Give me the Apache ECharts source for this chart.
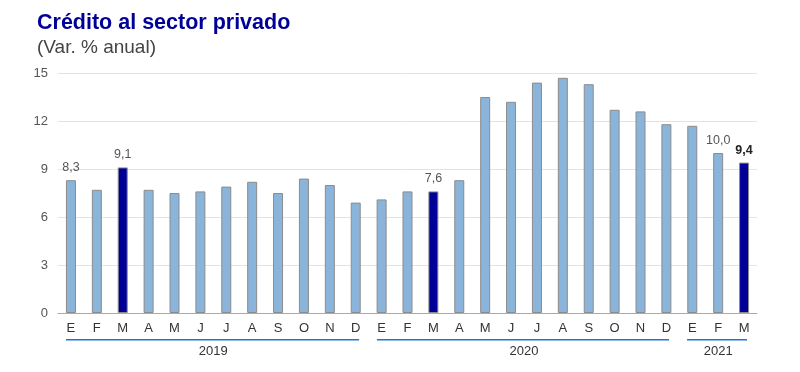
<!DOCTYPE html>
<html><head><meta charset="utf-8">
<script src="https://cdn.jsdelivr.net/npm/echarts@6/dist/echarts.min.js"></script>
<style>html,body{margin:0;padding:0;background:#fff}#c{width:800px;height:372px}</style>
</head><body><div id="c"></div>
<script>
const months = ['E','F','M','A','M','J','J','A','S','O','N','D','E','F','M','A','M','J','J','A','S','O','N','D','E','F','M'];
const values = [8.3,7.7,9.1,7.7,7.5,7.6,7.9,8.2,7.5,8.4,8.0,6.9,7.1,7.6,7.6,8.3,13.5,13.2,14.4,14.7,14.3,12.7,12.6,11.8,11.7,10.0,9.4];
const highlighted = [2,14,26];
const labelled = [0,2,14,25];
const boldLabelled = [26];
const years = [{name:'2019',from:0,to:11},{name:'2020',from:12,to:23},{name:'2021',from:24,to:26}];
const yTicks = {min:0,max:15,interval:3};

const FONT = 'Liberation Sans, Arial, sans-serif';
const chart = echarts.init(document.getElementById('c'));
const data = values.map((v,i)=>{
  const item = {value:v};
  if (highlighted.includes(i)) item.itemStyle = {color:'#000099'};
  if (labelled.includes(i)) item.label = {show:true};
  if (boldLabelled.includes(i)) item.label = {show:true,fontWeight:'bold',color:'#222'};
  return item;
});
chart.setOption({
  animation:false,
  title:[
    {text:'Crédito al sector privado',left:32,top:7,textStyle:{fontFamily:FONT,fontSize:21.5,fontWeight:'bold',color:'#000099'}},
    {text:'(Var. % anual)',left:32,top:33,textStyle:{fontFamily:FONT,fontSize:19,fontWeight:'normal',color:'#444'}}
  ],
  grid:{left:58,right:43,top:73,bottom:59},
  xAxis:{type:'category',data:months,
    axisLine:{lineStyle:{color:'#aaa'}},axisTick:{show:false},
    axisLabel:{interval:0,margin:9,color:'#333',fontFamily:FONT,fontSize:13}},
  yAxis:{type:'value',min:yTicks.min,max:yTicks.max,interval:yTicks.interval,
    axisLine:{show:false},axisTick:{show:false},
    splitLine:{lineStyle:{color:'#e3e3e3'}},
    axisLabel:{margin:10,color:'#555',fontFamily:FONT,fontSize:13}},
  series:[{type:'bar',data:data,barWidth:10,
    itemStyle:{color:'#8ab4d9',borderColor:'#8c8c8c',borderWidth:1},
    label:{show:false,position:'top',distance:6,color:'#555',fontFamily:FONT,fontSize:12.5,
      formatter:p=>p.value.toFixed(1).replace('.',','),}
  }]
});
function drawYears(){
  const g=[];
  years.forEach(y=>{
    const a=chart.convertToPixel({xAxisIndex:0},y.from);
    const b=chart.convertToPixel({xAxisIndex:0},y.to);
    const base=chart.convertToPixel({yAxisIndex:0},0);
    const ly=Math.round(base+26);
    const x1=Math.round(a-5), x2=Math.round(b+3);
    g.push({type:'rect',shape:{x:x1,y:ly,width:x2-x1,height:1.5},style:{fill:'#1f74dc'},z:10});
    g.push({type:'text',x:(a+b)/2,y:base+38,style:{text:y.name,fill:'#333',font:'13px '+FONT,align:'center',verticalAlign:'middle'}});
  });
  chart.setOption({graphic:{elements:g}});
}
drawYears();
</script></body></html>
